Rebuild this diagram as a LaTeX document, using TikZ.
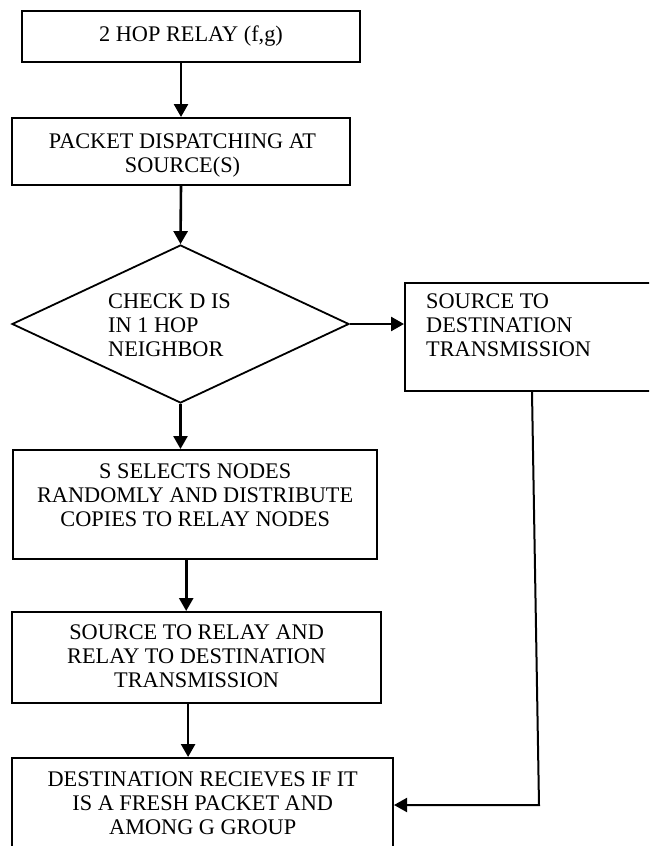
\documentclass[tikz,border=0pt]{standalone}
\usepackage{fontspec}
\setmainfont{Liberation Serif}
\usetikzlibrary{arrows.meta,shapes.geometric}
\begin{document}
\begin{tikzpicture}[x=1pt,y=-1pt,
  box/.style={draw, line width=2pt, inner sep=0pt},
  lbl/.style={font=\fontsize{22.3}{24}\selectfont, align=center, inner sep=0pt},
  flow/.style={line width=2.6pt, -{Triangle[length=13pt,width=14pt]}},
  side/.style={line width=2pt, -{Triangle[length=13pt,width=14pt]}}]
\clip (0,0) rectangle (649,846);

% process boxes
\node[box, minimum width=338pt, minimum height=51pt]   (b1) at (191,36.5) {};
\node[box, minimum width=338pt, minimum height=67pt]   (b2) at (181,151.5) {};
\node[draw, diamond, line width=1.8pt, inner sep=0pt,
      minimum width=337pt, minimum height=158pt]       (d)  at (180.5,324) {};
\node[box, minimum width=246pt, minimum height=108pt]  (b4) at (528,337) {};
\node[box, minimum width=364.5pt, minimum height=109pt] (b5) at (195.2,504.5) {};
\node[box, minimum width=368.5pt, minimum height=91pt]  (b6) at (196.6,657.5) {};
\node[box, minimum width=380.6pt, minimum height=94pt]  (b7) at (202.7,805) {};

% texts
\node[lbl] (t1) at (191,36) {2 HOP RELAY (f,g)};
\node[lbl] (t2) at (182.5,155) {PACKET DISPATCHING AT\\SOURCE(S)};
\node[lbl, align=left, anchor=west] (td) at (108,325) {CHECK D IS\\IN 1 HOP\\NEIGHBOR};
\node[lbl, align=left, anchor=west] (t4) at (426,325) {SOURCE TO\\DESTINATION\\TRANSMISSION};
\node[lbl] (t5) at (195.2,495) {S SELECTS NODES\\RANDOMLY AND DISTRIBUTE\\COPIES TO RELAY NODES};
\node[lbl] (t6) at (196.6,656) {SOURCE TO RELAY AND\\RELAY TO DESTINATION\\TRANSMISSION};
\node[lbl] (t7) at (202.7,803) {DESTINATION RECIEVES IF IT\\IS A FRESH PACKET AND\\AMONG G GROUP};

% connectors
\coordinate (bend) at (539,805);
\draw[flow] (b2.north |- b1.south) -- (b2.north);
\draw[flow] (b2.south) -- (d.north);
\draw[flow] (d.east) -- (d.east -| b4.west);
\draw[flow] (d.south) -- (d.south |- b5.north);
\draw[flow] ([xshift=-9pt]b5.south) -- ([xshift=-9pt]b5.south |- b6.north);
\draw[flow] ([xshift=-8.5pt]b6.south) -- ([xshift=-8.5pt]b6.south |- b7.north);
\draw[side] ([xshift=4pt]b4.south) -- (bend) -- (bend -| b7.east);
\end{tikzpicture}
\end{document}
